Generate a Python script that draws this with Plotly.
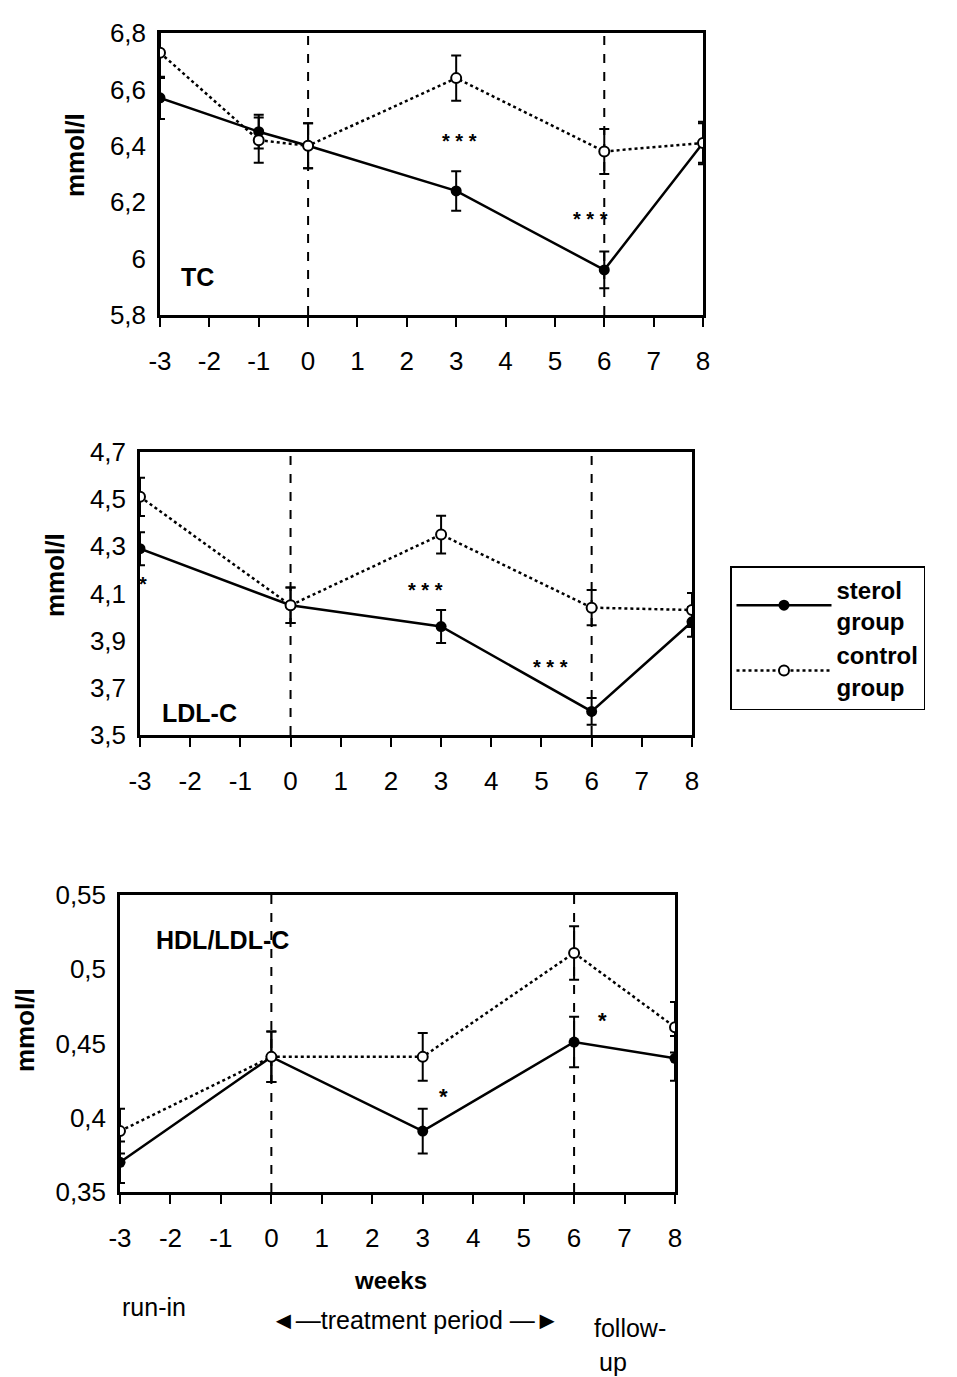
import plotly.graph_objects as go

# page body has an 8px margin, so the figure is drawn 8px smaller and offset
OFF = 8
W, H = 957 - OFF, 1377 - OFF

# ---------------- data ----------------
weeks_tc = [-3, -1, 0, 3, 6, 8]
tc_sterol = [6.57, 6.45, 6.40, 6.24, 5.96, 6.41]
tc_sterol_err = [0.075, 0.06, 0.08, 0.07, 0.065, 0.07]
tc_control = [6.73, 6.42, 6.40, 6.64, 6.38, 6.41]
tc_control_err = [0.09, 0.08, 0.08, 0.08, 0.08, 0.075]

weeks_ldl = [-3, 0, 3, 6, 8]
ldl_sterol = [4.29, 4.05, 3.96, 3.60, 3.98]
ldl_sterol_err = [0.07, 0.075, 0.07, 0.057, 0.063]
ldl_control = [4.51, 4.05, 4.35, 4.04, 4.03]
ldl_control_err = [0.081, 0.075, 0.08, 0.075, 0.072]

weeks_ratio = [-3, 0, 3, 6, 8]
ratio_sterol = [0.370, 0.441, 0.391, 0.451, 0.440]
ratio_sterol_err = [0.014, 0.017, 0.015, 0.017, 0.015]
ratio_control = [0.391, 0.441, 0.441, 0.511, 0.461]
ratio_control_err = [0.015, 0.017, 0.016, 0.018, 0.017]

x_ticks = list(range(-3, 9))
tc_ticks = [5.8, 6.0, 6.2, 6.4, 6.6, 6.8]
tc_ticktext = ["5,8", "6", "6,2", "6,4", "6,6", "6,8"]
ldl_ticks = [3.5, 3.7, 3.9, 4.1, 4.3, 4.5, 4.7]
ldl_ticktext = ["3,5", "3,7", "3,9", "4,1", "4,3", "4,5", "4,7"]
ratio_ticks = [0.35, 0.40, 0.45, 0.50, 0.55]
ratio_ticktext = ["0,35", "0,4", "0,45", "0,5", "0,55"]

FONT = "Liberation Sans, Arial, sans-serif"

def px_x(x):
    return (x - OFF) / W

def px_y(y):
    return 1 - (y - OFF) / H

fig = go.Figure()

panels = [
    (weeks_tc, tc_sterol, tc_sterol_err, tc_control, tc_control_err, ""),
    (weeks_ldl, ldl_sterol, ldl_sterol_err, ldl_control, ldl_control_err, "2"),
    (weeks_ratio, ratio_sterol, ratio_sterol_err, ratio_control, ratio_control_err, "3"),
]

for i, (xs, s, se, c, ce, suf) in enumerate(panels):
    fig.add_trace(go.Scatter(
        x=xs, y=s, mode="lines+markers", name="sterol<br>group",
        xaxis="x" + suf, yaxis="y" + suf,
        line=dict(color="black", width=2.5),
        marker=dict(symbol="circle", size=11, color="black"),
        error_y=dict(type="data", array=se, color="black", thickness=2, width=5),
        showlegend=(i == 0),
    ))
    fig.add_trace(go.Scatter(
        x=xs, y=c, mode="lines+markers", name="control<br>group",
        xaxis="x" + suf, yaxis="y" + suf,
        line=dict(color="black", width=2.5, dash="dot"),
        marker=dict(symbol="circle", size=10, color="white", line=dict(width=2, color="black")),
        error_y=dict(type="data", array=ce, color="black", thickness=2, width=5),
        showlegend=(i == 0),
    ))

doms = [
    dict(x=(160, 703), y=(33, 315)),
    dict(x=(140, 692), y=(452, 735)),
    dict(x=(120, 675), y=(895, 1192)),
]
yspecs = [
    ([5.8, 6.8], tc_ticks, tc_ticktext),
    ([3.5, 4.7], ldl_ticks, ldl_ticktext),
    ([0.35, 0.55], ratio_ticks, ratio_ticktext),
]

layout_axes = {}
for i, (d, (yr, yt, ytt)) in enumerate(zip(doms, yspecs)):
    suf = "" if i == 0 else str(i + 1)
    layout_axes["xaxis" + suf] = dict(
        domain=[px_x(d["x"][0]), px_x(d["x"][1])],
        anchor="y" + suf, range=[-3, 8], tickmode="array", tickvals=x_ticks,
        ticktext=[str(t) for t in x_ticks],
        ticks="outside", ticklen=9, tickwidth=2, tickcolor="black",
        showline=True, linecolor="black", linewidth=2.5, mirror=True,
        showgrid=False, zeroline=False, automargin=False,
        tickfont=dict(family=FONT, size=26, color="black"),
        ticklabelstandoff=12,
    )
    layout_axes["yaxis" + suf] = dict(
        domain=[px_y(d["y"][1]), px_y(d["y"][0])],
        anchor="x" + suf, range=yr, tickmode="array", tickvals=yt, ticktext=ytt,
        ticks="", showline=True, linecolor="black", linewidth=2.5, mirror=True,
        showgrid=False, zeroline=False, automargin=False,
        tickfont=dict(family=FONT, size=26, color="black"),
        ticklabelstandoff=6,
    )

fig.update_layout(**layout_axes)

shapes = []
for i in range(3):
    suf = "" if i == 0 else str(i + 1)
    for xv in (0, 6):
        shapes.append(dict(type="line", xref="x" + suf, yref="y" + suf + " domain",
                           x0=xv, x1=xv, y0=0, y1=1, layer="below",
                           line=dict(color="black", width=2, dash="dash")))

annotations = []
def txt(text, x, y, xref, yref, size=22, bold=False, xanchor="center", **kw):
    annotations.append(dict(
        text=("<b>%s</b>" % text) if bold else text, x=x, y=y, xref=xref, yref=yref,
        xanchor=xanchor, yanchor="middle",
        showarrow=False, font=dict(family=FONT, size=size, color="black"), **kw))

# panel labels
txt("TC", -2.62, 5.935, "x", "y", size=25, bold=True, xanchor="left")
txt("LDL-C", -2.6, 3.595, "x2", "y2", size=25, bold=True, xanchor="left")
txt("HDL/LDL-C", -2.32, 0.52, "x3", "y3", size=25, bold=True, xanchor="left")

# significance stars
txt("* * *", 3.06, 6.417, "x", "y", size=20, bold=True)
txt("* * *", 5.73, 6.14, "x", "y", size=20, bold=True)
txt("*", -2.95, 4.14, "x2", "y2", size=20, bold=True)
txt("* * *", 2.69, 4.114, "x2", "y2", size=20, bold=True)
txt("* * *", 5.18, 3.787, "x2", "y2", size=20, bold=True)
txt("*", 3.41, 0.4143, "x3", "y3", size=22, bold=True)
txt("*", 6.56, 0.4656, "x3", "y3", size=22, bold=True)

# y-axis titles
for xp, yp in [(75, 155), (55, 575), (25, 1030)]:
    txt("mmol/l", px_x(xp), px_y(yp), "paper", "paper", size=26, bold=True,
        textangle=-90)

# bottom labels
txt("weeks", px_x(390), px_y(1280), "paper", "paper", size=24, bold=True)
txt("run-in", px_x(154), px_y(1307), "paper", "paper", size=25)
txt("◄—treatment period —►", px_x(415), px_y(1320), "paper", "paper", size=25)
txt("follow-", px_x(630), px_y(1328), "paper", "paper", size=25)
txt("up", px_x(613), px_y(1362), "paper", "paper", size=25)

fig.update_layout(
    width=W, height=H, margin=dict(l=0, r=0, t=0, b=0, autoexpand=False),
    paper_bgcolor="white", plot_bgcolor="white",
    shapes=shapes, annotations=annotations,
    legend=dict(
        x=px_x(730), y=px_y(566), xanchor="left", yanchor="top",
        bordercolor="black", borderwidth=1.5, bgcolor="white",
        font=dict(family=FONT, size=24, color="black", weight="bold"),
        traceorder="normal", itemwidth=95, tracegroupgap=0,
    ),
    font=dict(family=FONT, color="black"),
)

fig.write_html("out.html")
